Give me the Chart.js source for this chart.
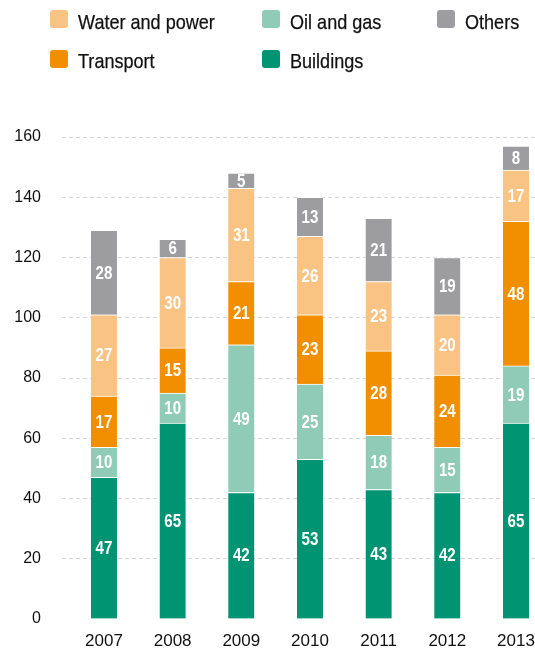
<!DOCTYPE html>
<html>
<head>
<meta charset="utf-8">
<script src="https://cdn.jsdelivr.net/npm/chart.js@4.4.1/dist/chart.umd.min.js"></script>
<style>
  html, body { margin: 0; padding: 0; background: #fff; }
  body { width: 535px; height: 654px; position: relative; overflow: hidden; }
  #wrap { position: absolute; left: 0; top: 0; width: 535px; height: 654px; }
  #legend { position: absolute; left: 0; top: 0; width: 535px; height: 90px;
    font-family: "Liberation Sans", Arial, sans-serif; font-size: 21px; color: #111; }
  .swatch { position: absolute; width: 18px; height: 18px; border-radius: 3px; }
  .text { position: absolute; line-height: 21px; white-space: nowrap;
    -webkit-text-stroke: 0.25px #111;
    transform: scaleX(0.86); transform-origin: 0 0; }
</style>
</head>
<body>
<div id="wrap"><canvas id="chart" width="535" height="654"></canvas></div>
<div id="legend"></div>
<script>
const years = ['2007', '2008', '2009', '2010', '2011', '2012', '2013'];
const buildings     = [47, 65, 42, 53, 43, 42, 65];
const oilAndGas     = [10, 10, 49, 25, 18, 15, 19];
const transport     = [17, 15, 21, 23, 28, 24, 48];
const waterAndPower = [27, 30, 31, 26, 23, 20, 17];
const others        = [28, 6, 5, 13, 21, 19, 8];
const yTicks = [0, 20, 40, 60, 80, 100, 120, 140, 160];

const FONT = '"Liberation Sans", Arial, sans-serif';

// stacking order bottom to top; legend cell = [column, row]
const series = [
  { label: 'Buildings',       values: buildings,     color: '#009473', cell: [1, 1] },
  { label: 'Oil and gas',     values: oilAndGas,     color: '#8fcbb6', cell: [1, 0] },
  { label: 'Transport',       values: transport,     color: '#f18f00', cell: [0, 1] },
  { label: 'Water and power', values: waterAndPower, color: '#f9c384', cell: [0, 0] },
  { label: 'Others',          values: others,        color: '#9d9d9f', cell: [2, 0] }
];
const legendCols = [50, 262, 437];
const legendRows = [10, 49.5];

// legend laid out in a grid above the plot
const legendEl = document.getElementById('legend');
series.forEach(s => {
  const x = legendCols[s.cell[0]], y = legendRows[s.cell[1]];
  const sw = document.createElement('span');
  sw.className = 'swatch';
  sw.style.left = x + 'px';
  sw.style.top = y + 'px';
  sw.style.background = s.color;
  const tx = document.createElement('span');
  tx.className = 'text';
  tx.style.left = (x + 28) + 'px';
  tx.style.top = (y + 0.5) + 'px';
  tx.textContent = s.label;
  legendEl.appendChild(sw);
  legendEl.appendChild(tx);
});

// white value labels centred in each segment
const segmentLabels = {
  id: 'segmentLabels',
  afterDatasetsDraw(chart) {
    const ctx = chart.ctx;
    chart.data.datasets.forEach((ds, di) => {
      const meta = chart.getDatasetMeta(di);
      meta.data.forEach((bar, i) => {
        const p = bar.getProps(['x', 'y', 'base'], true);
        const v = ds.data[i].y;
        ctx.save();
        ctx.translate(p.x, (p.y + p.base) / 2 + 1);
        ctx.scale(0.84, 1);
        ctx.fillStyle = '#ffffff';
        ctx.font = 'bold 18px ' + FONT;
        ctx.textAlign = 'center';
        ctx.textBaseline = 'middle';
        ctx.fillText(String(v), 0, 0);
        ctx.restore();
      });
    });
  }
};

new Chart(document.getElementById('chart'), {
  type: 'bar',
  data: {
    datasets: series.map(s => ({
      label: s.label,
      data: s.values.map((v, i) => ({ x: i, y: v })),
      backgroundColor: s.color,
      borderColor: '#ffffff',
      borderWidth: { top: 1, right: 0, bottom: 0, left: 0 },
      borderSkipped: false,
      barThickness: 26
    }))
  },
  options: {
    responsive: false,
    animation: false,
    events: [],
    layout: { padding: { top: 137, left: 0, right: 0, bottom: 0 } },
    plugins: { legend: { display: false }, tooltip: { enabled: false } },
    scales: {
      x: {
        type: 'linear',
        stacked: true,
        offset: false,
        min: -0.611,
        max: 6.277,
        border: { display: false },
        grid: { display: false, drawTicks: false, offset: false },
        afterBuildTicks: s => { s.ticks = years.map((_, i) => ({ value: i })); },
        afterFit: s => { s.height = 35; s.paddingLeft = 0; s.paddingRight = 0; },
        ticks: {
          padding: 12,
          color: '#111',
          font: { family: FONT, size: 17 },
          callback: v => years[v]
        }
      },
      y: {
        stacked: true,
        min: 0,
        max: 160,
        afterBuildTicks: s => { s.ticks = yTicks.map(v => ({ value: v })); },
        afterFit: s => { s.width = 62; },
        grid: {
          drawTicks: false,
          color: c => c.tick.value === 0 ? 'rgba(0,0,0,0)' : '#d6d6d6',
          lineWidth: 1
        },
        border: { display: false, dash: [4, 3] },
        ticks: {
          padding: 21,
          color: '#111',
          font: { family: FONT, size: 16 }
        }
      }
    }
  },
  plugins: [segmentLabels]
});
</script>
</body>
</html>
